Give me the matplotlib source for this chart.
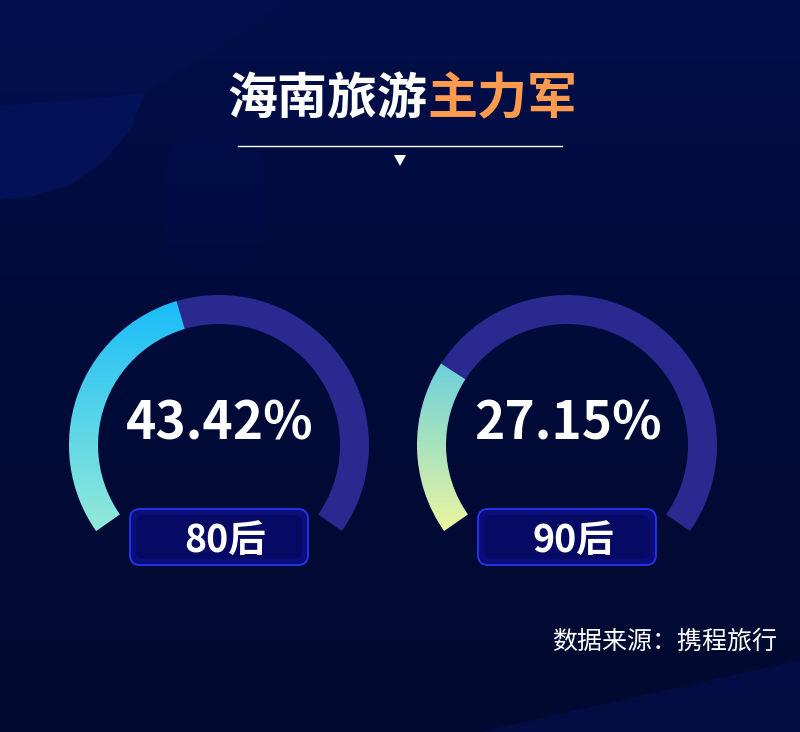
import numpy as np
import matplotlib.pyplot as plt
from matplotlib.patches import Wedge, FancyBboxPatch, Polygon
from matplotlib.colors import LinearSegmentedColormap

plt.rcParams['font.family'] = ['Noto Sans CJK SC', 'DejaVu Sans']

W, H = 800, 732

# data
groups = ["80后", "90后"]
shares = [43.42, 27.15]
gauge_max = [100, 100]
grad_colors = [("#93EAD9", "#19BDF9"), ("#EBF5A0", "#6BD1DB")]
title_white = "海南旅游"
title_orange = "主力军"
source = "数据来源：携程旅行"

# gauge geometry (pixels, y measured from top)
centers = [(219, 445), (567, 445)]
r_out, r_in = 150, 121
start_deg, end_deg = 215, -35


def Y(y):
    return H - y


def pts(seq):
    return [(x, Y(y)) for x, y in seq]


fig = plt.figure(figsize=(8, 7.32), dpi=100)
ax = fig.add_axes([0, 0, 1, 1])
ax.set_xlim(0, W)
ax.set_ylim(0, H)
ax.axis('off')

# background
bg = LinearSegmentedColormap.from_list("bg", ["#020F4A", "#000B38", "#000A30"])
ax.imshow(np.linspace(0, 1, 256).reshape(-1, 1)[::-1], extent=(0, W, 0, H),
          cmap=bg, origin='lower', aspect='auto', zorder=0)
# soft shapes
ax.add_patch(Polygon(pts([(0, 0), (285, 0), (240, 35), (190, 65), (145, 93),
                          (80, 100), (0, 106)]),
                     closed=True, color="#031050", alpha=0.5, lw=0, zorder=1))
ax.add_patch(Polygon(pts([(0, 106), (80, 100), (145, 93), (130, 130), (105, 160),
                          (70, 185), (30, 197), (0, 200)]),
                     closed=True, color="#061565", alpha=0.6, lw=0, zorder=1))
ax.add_patch(FancyBboxPatch((165, Y(270)), 100, 140, boxstyle="round,pad=0,rounding_size=48",
                            color="#04126A", alpha=0.1, lw=0, zorder=1))
ax.add_patch(Polygon([(480, 0), (W, 0), (W, Y(660))], closed=True,
                     color="#04125C", alpha=0.45, lw=0, zorder=1))

# title
ax.text(427, Y(100), title_white, ha='right', va='center', fontsize=36,
        fontweight='heavy', color='white', zorder=5)
ax.text(427, Y(100), title_orange, ha='left', va='center', fontsize=36,
        fontweight='heavy', color='#FF9B4E', zorder=5)
ax.plot([238, 562], [Y(146), Y(146)], color='white', lw=1, zorder=5)
ax.add_patch(Polygon(pts([(394, 155), (406, 155), (400, 166)]), closed=True,
                     color='white', lw=0, zorder=5))

span = start_deg - end_deg
for i, (cx, cy) in enumerate(centers):
    c = (cx, Y(cy))
    # track
    ax.add_patch(Wedge(c, r_out, end_deg, start_deg, width=r_out - r_in,
                       color="#29298F", lw=0, zorder=2))
    # value arc
    val_deg = start_deg - shares[i] / gauge_max[i] * span
    arc = Wedge(c, r_out, val_deg, start_deg, width=r_out - r_in, lw=0,
                facecolor='none', zorder=3)
    ax.add_patch(arc)
    th = np.radians(np.linspace(val_deg, start_deg, 200))
    ys = np.concatenate([c[1] + r_out * np.sin(th), c[1] + r_in * np.sin(th)])
    cmap = LinearSegmentedColormap.from_list("g%d" % i, grad_colors[i])
    im = ax.imshow(np.linspace(0, 1, 256).reshape(-1, 1), cmap=cmap, origin='lower',
                   extent=(cx - r_out, cx + r_out, ys.min(), ys.max()),
                   aspect='auto', zorder=3)
    im.set_clip_path(arc)

    # value text
    ax.text(cx + 1, Y(424), f"{shares[i]:.2f}%", ha='center', va='center',
            fontsize=37, fontweight='bold', color='white', zorder=6)

    # label box
    bx0 = cx - 89
    ax.add_patch(FancyBboxPatch((bx0, Y(565)), 178, 56,
                                boxstyle="round,pad=0,rounding_size=10",
                                facecolor="#0A0D7A", edgecolor="#2536F0", lw=1.3, zorder=4))
    ax.add_patch(FancyBboxPatch((bx0 + 6, Y(559)), 166, 44,
                                boxstyle="round,pad=0,rounding_size=8",
                                facecolor="#050A5C", edgecolor='none', alpha=0.7, zorder=4))
    ax.text(cx + 6, Y(540), groups[i], ha='center', va='center', fontsize=27,
            fontweight='bold', color='white', zorder=6)

# source
ax.text(777, Y(642), source, ha='right', va='center', fontsize=18,
        color='white', zorder=6)

ax.set_xlim(0, W)
ax.set_ylim(0, H)
fig.savefig("out.png", dpi=100)
